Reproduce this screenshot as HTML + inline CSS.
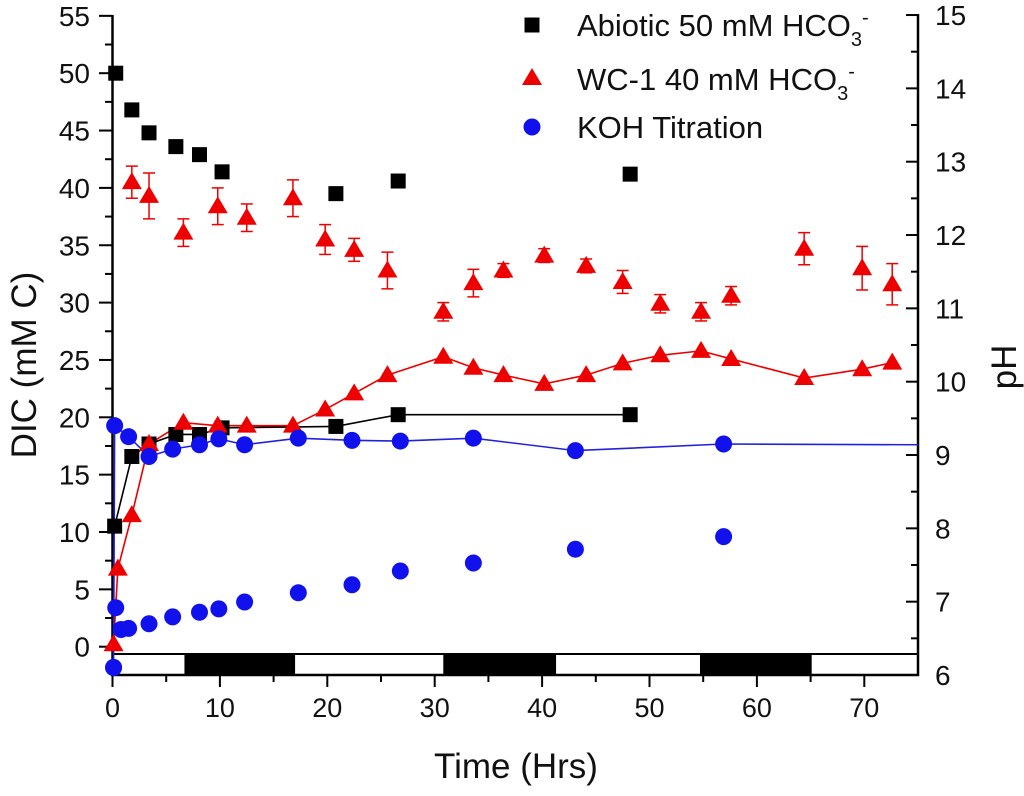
<!DOCTYPE html>
<html><head><meta charset="utf-8"><style>
body{margin:0;background:#fff;}
svg text{font-family:"Liberation Sans",Arial,sans-serif;fill:#111;}
</style></head><body>
<svg id="c" width="1024" height="791" xmlns="http://www.w3.org/2000/svg"></svg>
<script>
const xTicks=[0,10,20,30,40,50,60,70];
const yTicks=[0,5,10,15,20,25,30,35,40,45,50,55];
const pHTicks=[6,7,8,9,10,11,12,13,14,15];
const nightStart=[6.7,30.8,54.7];
const nightEnd=[17.0,41.3,65.1];
const abX=[0.3,1.8,3.4,5.9,8.1,10.2,20.8,26.6,48.2];
const abDIC=[50,46.8,44.8,43.6,42.9,41.4,39.5,40.6,41.2];
const abPHx=[0.2,1.8,3.4,5.9,8.1,10.2,20.8,26.6,48.2];
const abPH=[8.03,8.98,9.15,9.28,9.28,9.37,9.39,9.55,9.55];
const wcX=[1.8,3.4,6.6,9.8,12.5,16.8,19.8,22.5,25.6,30.8,33.6,36.4,40.2,44.1,47.5,51,54.8,57.6,64.4,69.8,72.6];
const wcDIC=[40.5,39.3,36.1,38.4,37.4,39.1,35.5,34.6,32.8,29.2,31.7,32.8,34.1,33.2,31.8,29.9,29.2,30.6,34.7,33,31.6];
const wcErr=[1.4,2.0,1.2,1.6,1.2,1.6,1.3,1.0,1.6,0.8,1.2,0.6,0.6,0.6,1.0,0.8,0.8,0.8,1.4,1.9,1.8];
const wcPHx=[0.1,0.5,1.8,3.4,6.6,9.8,12.5,16.8,19.8,22.5,25.6,30.8,33.6,36.4,40.2,44.1,47.5,51,54.8,57.6,64.4,69.8,72.6];
const wcPH=[6.42,7.45,8.18,9.15,9.44,9.40,9.40,9.40,9.62,9.84,10.09,10.34,10.19,10.09,9.97,10.09,10.25,10.36,10.42,10.31,10.05,10.17,10.26];
const kX=[0.1,0.3,0.8,1.5,3.4,5.6,8.1,9.9,12.3,17.3,22.3,26.8,33.6,43.1,56.9];
const kDIC=[-1.8,3.4,1.5,1.6,2.0,2.6,3.0,3.3,3.9,4.7,5.4,6.6,7.3,8.5,9.6];
const kPHx=[0.1,0.2,1.5,3.4,5.6,8.1,9.9,12.3,17.3,22.3,26.8,33.6,43.1,56.9,75];
const kPH=[6.10,9.40,9.25,8.98,9.08,9.14,9.22,9.14,9.23,9.20,9.19,9.23,9.06,9.15,9.14];

const X=v=>112.5+v*10.74, Y=v=>646.7-v*11.47, P=v=>675-(v-6)*73.33;
const svg=document.getElementById('c');const NS='http://www.w3.org/2000/svg';
function mk(t,a,p){const e=document.createElementNS(NS,t);for(const k in a)e.setAttribute(k,a[k]);(p||svg).appendChild(e);return e;}
mk('rect',{x:112.5,y:654,width:805.5,height:21,fill:'#fff',stroke:'#000','stroke-width':2});
nightStart.forEach((s,i)=>{const r=mk('rect',{x:X(s),y:654,width:X(nightEnd[i])-X(s),height:21,fill:'#000'});

});
mk('line',{x1:112.5,y1:15,x2:112.5,y2:676,stroke:'#000','stroke-width':2.5});
mk('line',{x1:111,y1:675,x2:919,y2:675,stroke:'#000','stroke-width':2.5});
mk('line',{x1:918,y1:14,x2:918,y2:676,stroke:'#000','stroke-width':2.5});
xTicks.forEach(v=>{mk('line',{x1:X(v),y1:675,x2:X(v),y2:687,stroke:'#000','stroke-width':2});
const t=mk('text',{x:X(v),y:717,'font-size':27,'text-anchor':'middle'});t.textContent=v;


if(v<70)mk('line',{x1:X(v+5),y1:675,x2:X(v+5),y2:682,stroke:'#000','stroke-width':2});});
yTicks.forEach(v=>{mk('line',{x1:99,y1:Y(v),x2:112.5,y2:Y(v),stroke:'#000','stroke-width':2});
const t=mk('text',{x:90,y:Y(v)+10,'font-size':28,'text-anchor':'end'});t.textContent=v;


if(v<55)mk('line',{x1:105,y1:Y(v+2.5),x2:112.5,y2:Y(v+2.5),stroke:'#000','stroke-width':2});});
pHTicks.forEach(v=>{mk('line',{x1:906,y1:P(v),x2:918,y2:P(v),stroke:'#000','stroke-width':2});
const t=mk('text',{x:935,y:P(v)+10,'font-size':28});t.textContent=v;


if(v<15)mk('line',{x1:911,y1:P(v+0.5),x2:918,y2:P(v+0.5),stroke:'#000','stroke-width':2});});
let t=mk('text',{x:516,y:778,'font-size':35,'text-anchor':'middle'});t.textContent='Time (Hrs)';

t=mk('text',{x:0,y:0,'font-size':35,'text-anchor':'middle',transform:'translate(36,365) rotate(-90)'});t.textContent='DIC (mM C)';

t=mk('text',{x:0,y:0,'font-size':35,'text-anchor':'middle',transform:'translate(1016,367) rotate(-90)'});t.textContent='pH';

function line(xs,ys,f,col,name){const p=mk('polyline',{points:xs.map((x,i)=>X(x)+','+f(ys[i])).join(' '),fill:'none',stroke:col,'stroke-width':1.6});
}
line(abPHx,abPH,P,'#000','abiotic-ph-line');
line(wcPHx,wcPH,P,'#e00','wc1-ph-line');
line(kPHx,kPH,P,'#22d','koh-ph-line');
function sq(x,y,n){const e=mk('rect',{x:x-7.5,y:y-7.5,width:15,height:15,fill:'#000'});}
function tri(x,y,n){const e=mk('polygon',{points:`${x},${y-10} ${x-10},${y+7} ${x+10},${y+7}`,fill:'#e00'});}
function circ(x,y,n){const e=mk('circle',{cx:x,cy:y,r:8.5,fill:'#11e'});}
abX.forEach((x,i)=>sq(X(x),Y(abDIC[i]),'abiotic-dic-point'));
abPHx.forEach((x,i)=>sq(X(x),P(abPH[i]),'abiotic-ph-point'));
wcX.forEach((x,i)=>{const y0=Y(wcDIC[i]),e1=Y(wcDIC[i]+wcErr[i]),e2=Y(wcDIC[i]-wcErr[i]);
mk('line',{x1:X(x),y1:e1,x2:X(x),y2:e2,stroke:'#e00','stroke-width':1.5});
mk('line',{x1:X(x)-6,y1:e1,x2:X(x)+6,y2:e1,stroke:'#e00','stroke-width':1.5});
mk('line',{x1:X(x)-6,y1:e2,x2:X(x)+6,y2:e2,stroke:'#e00','stroke-width':1.5});
tri(X(x),y0,'wc1-dic-point');});
wcPHx.forEach((x,i)=>tri(X(x),P(wcPH[i]),'wc1-ph-point'));
kX.forEach((x,i)=>circ(X(x),Y(kDIC[i]),'koh-dic-point'));
kPHx.slice(0,-1).forEach((x,i)=>circ(X(x),P(kPH[i]),'koh-ph-point'));
sq(532,25,'legend-abiotic-marker');tri(532,78,'legend-wc1-marker');circ(532,127,'legend-koh-marker');
function lg(y,h,n){const e=mk('text',{x:577,y:y,'font-size':31});
e.innerHTML=h;}
lg(36,'Abiotic 50 mM HCO<tspan font-size="20" dy="10">3</tspan><tspan font-size="20" dy="-22">-</tspan>','legend-abiotic');
lg(90,'WC-1 40 mM HCO<tspan font-size="20" dy="10">3</tspan><tspan font-size="20" dy="-22">-</tspan>','legend-wc1');
lg(138,'KOH Titration','legend-koh');
</script>
</body></html>
